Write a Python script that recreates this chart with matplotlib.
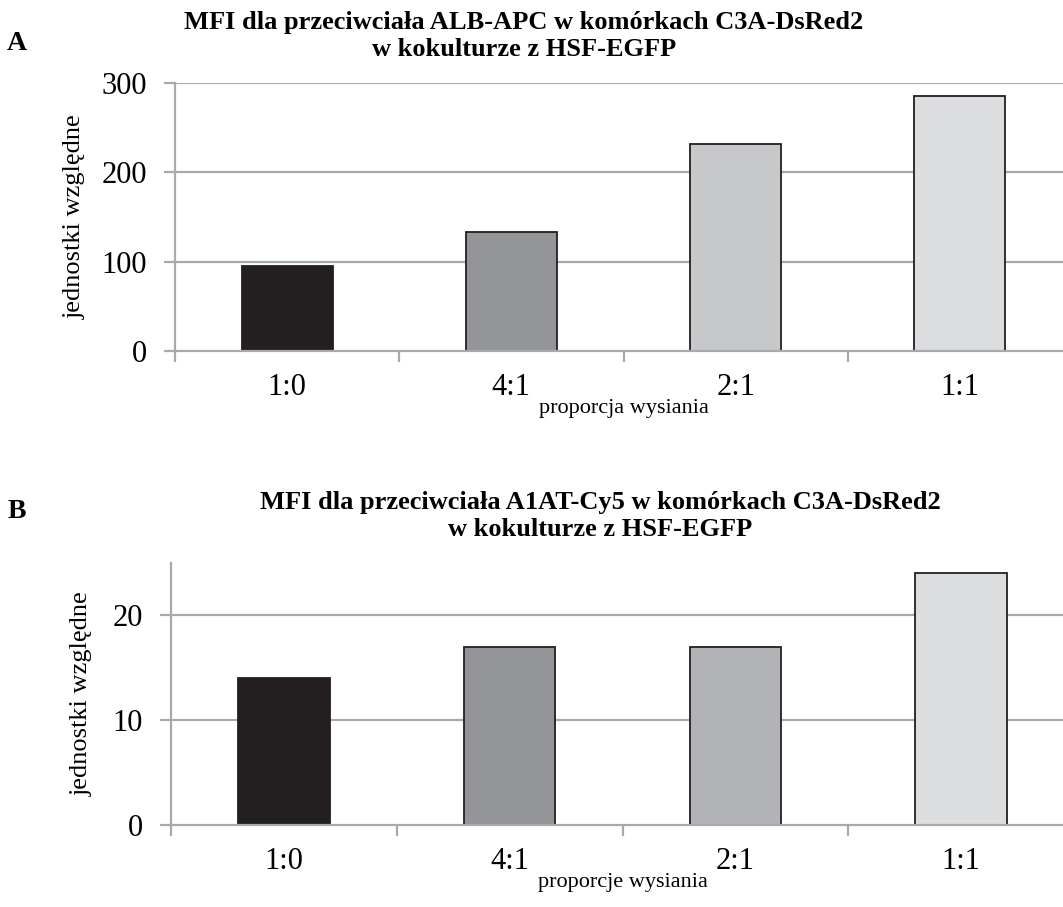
import matplotlib
matplotlib.use("Agg")
import matplotlib.pyplot as plt
import numpy as np

# Seeding ratios and MFI values
categories = ["1:0", "4:1", "2:1", "1:1"]
alb_values = [95, 133, 232, 285]
a1at_values = [14, 17, 17, 24]

colors_a = ["#231f20", "#939598", "#c7c8ca", "#dcdddf"]
colors_b = ["#231f20", "#939598", "#b1b3b6", "#dcdddf"]

plt.rcParams["font.family"] = ["Liberation Serif", "DejaVu Serif"]

GRID = "#a7a9ac"
EDGE = "#231f20"

fig = plt.figure(figsize=(10.63, 9.07), dpi=100)


def panel(ax, values, colors, ymax, step, xlabel, ylabel_x):
    x = np.arange(len(categories))
    ax.bar(x, values, width=0.405, color=colors, edgecolor=EDGE,
           linewidth=1.3, zorder=3)
    ax.set_xlim(-0.5, len(categories) - 0.5)
    ax.set_ylim(0, ymax)
    ax.set_yticks(np.arange(0, ymax + 0.1, step))
    ax.yaxis.grid(True, color=GRID, linewidth=1.6, zorder=0)
    ax.set_axisbelow(True)
    for s in ["top", "right"]:
        ax.spines[s].set_visible(False)
    for s in ["left", "bottom"]:
        ax.spines[s].set_color(GRID)
        ax.spines[s].set_linewidth(1.6)
        ax.spines[s].set_zorder(4)
    # category boundary ticks on the x axis
    ax.set_xticks(np.arange(-0.5, len(categories), 1.0))
    ax.set_xticklabels([])
    ax.set_xticks(x, minor=True)
    ax.set_xticklabels(categories, minor=True, fontsize=22)
    ax.tick_params(axis="x", which="major", length=8, width=1.6, color=GRID,
                   direction="out")
    ax.tick_params(axis="x", which="minor", length=0, pad=16)
    ax.tick_params(axis="y", length=8, width=1.6, color=GRID, labelsize=22,
                   pad=12)
    ax.set_xlabel(xlabel, fontsize=16, labelpad=-2.5)
    ax.set_ylabel("jednostki względne", fontsize=19)
    ax.yaxis.set_label_coords(ylabel_x, 0.5)


ax_a = fig.add_axes([175 / 1063, 556 / 907, 897 / 1063, 268 / 907])
panel(ax_a, alb_values, colors_a, 300, 100, "proporcja wysiania",
      (86 - 175) / 897)
ax_a.yaxis.get_gridlines()[0].set_visible(False)

ax_b = fig.add_axes([171 / 1063, 82 / 907, 903 / 1063, 262 / 907])
panel(ax_b, a1at_values, colors_b, 25, 10, "proporcje wysiania",
      (93 - 171) / 903)
ax_b.yaxis.get_gridlines()[0].set_visible(False)

title_kw = dict(ha="center", va="center", fontsize=19, fontweight="bold",
                linespacing=1.2)
fig.text(524 / 1063, 1 - 36 / 907,
         "MFI dla przeciwciała ALB-APC w komórkach C3A-DsRed2\nw kokulturze z HSF-EGFP",
         **title_kw)
fig.text(600 / 1063, 1 - 516 / 907,
         "MFI dla przeciwciała A1AT-Cy5 w komórkach C3A-DsRed2\nw kokulturze z HSF-EGFP",
         **title_kw)

fig.text(17 / 1063, 1 - 44 / 907, "A", fontsize=20, fontweight="bold",
         ha="center", va="center")
fig.text(17 / 1063, 1 - 511 / 907, "B", fontsize=20, fontweight="bold",
         ha="center", va="center")

fig.savefig("out.png", dpi=100)
